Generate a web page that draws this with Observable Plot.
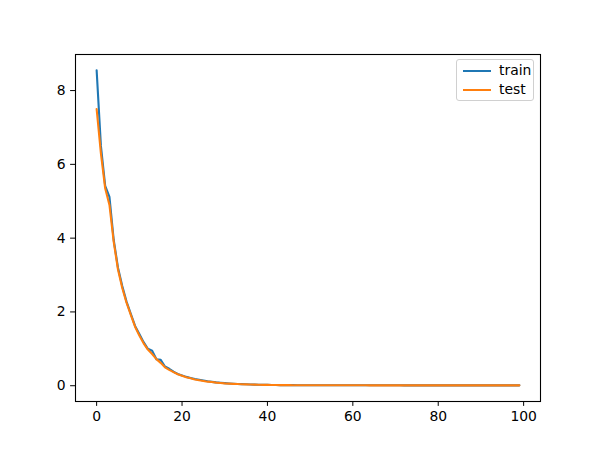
<!DOCTYPE html>
<html>
<head>
<meta charset="utf-8">
<script src="https://cdn.jsdelivr.net/npm/d3@7"></script>
<script src="https://cdn.jsdelivr.net/npm/@observablehq/plot@0.6"></script>
<style>
  html, body { margin: 0; padding: 0; background: #fff; }
  #wrap { position: relative; width: 600px; height: 450px; font-family: "DejaVu Sans", sans-serif; }
  #legend { position: absolute; left: 456px; top: 59px; width: 78px; height: 42px; box-sizing: border-box;
    border: 1px solid #d0d0d0; border-radius: 3px; background: rgba(255,255,255,0.8); font-size: 13.9px; color: #000; }
  .row { position: absolute; left: 0; height: 16px; }
  .sw { position: absolute; left: 6px; width: 28px; height: 2px; }
  .lb { position: absolute; left: 42px; line-height: 16px; }
</style>
</head>
<body>
<div id="wrap">
  <div id="chart"></div>
  <div id="legend">
    <div class="row" style="top:2px"><div class="sw" style="top:8px;background:#1f77b4"></div><div class="lb" style="top:0">train</div></div>
    <div class="row" style="top:21px"><div class="sw" style="top:8px;background:#ff7f0e"></div><div class="lb" style="top:0">test</div></div>
  </div>
</div>
<script>
const seriesNames = ["train", "test"];
const seriesColors = ["#1f77b4", "#ff7f0e"];
const xTicks = [0, 20, 40, 60, 80, 100];
const yTicks = [0, 2, 4, 6, 8];

const train = [
  8.55, 6.5, 5.42, 5.12, 3.95, 3.2, 2.7, 2.28, 1.95, 1.62,
  1.4, 1.18, 1.0, 0.95, 0.72, 0.7, 0.52, 0.46, 0.38, 0.32,
  0.28, 0.24, 0.21, 0.18, 0.16, 0.14, 0.12, 0.105, 0.09, 0.08,
  0.07, 0.062, 0.055, 0.048, 0.043, 0.038, 0.034, 0.031, 0.028, 0.025,
  0.023, 0.021, 0.019, 0.017, 0.016, 0.015, 0.015, 0.014, 0.014, 0.014,
  0.013, 0.013, 0.013, 0.013, 0.012, 0.012, 0.012, 0.012, 0.012, 0.012,
  0.011, 0.011, 0.011, 0.011, 0.011, 0.011, 0.011, 0.011, 0.011, 0.011,
  0.011, 0.011, 0.010, 0.010, 0.010, 0.010, 0.010, 0.010, 0.010, 0.010,
  0.010, 0.010, 0.010, 0.010, 0.010, 0.010, 0.010, 0.010, 0.010, 0.010,
  0.010, 0.010, 0.010, 0.010, 0.010, 0.010, 0.010, 0.010, 0.010, 0.010
];
const test = [
  7.5, 6.3, 5.35, 4.9, 3.9, 3.15, 2.65, 2.25, 1.92, 1.6,
  1.36, 1.15, 0.98, 0.86, 0.72, 0.62, 0.5, 0.43, 0.37, 0.31,
  0.27, 0.23, 0.2, 0.17, 0.15, 0.13, 0.11, 0.1, 0.085, 0.075,
  0.065, 0.058, 0.051, 0.045, 0.04, 0.036, 0.032, 0.029, 0.026, 0.024,
  0.022, 0.02, 0.018, 0.017, 0.016, 0.015, 0.014, 0.014, 0.013, 0.013,
  0.013, 0.012, 0.012, 0.012, 0.012, 0.012, 0.011, 0.011, 0.011, 0.011,
  0.011, 0.011, 0.011, 0.011, 0.010, 0.010, 0.010, 0.010, 0.010, 0.010,
  0.010, 0.010, 0.010, 0.010, 0.010, 0.010, 0.010, 0.010, 0.010, 0.010,
  0.010, 0.010, 0.010, 0.010, 0.010, 0.010, 0.010, 0.010, 0.010, 0.010,
  0.010, 0.010, 0.010, 0.010, 0.010, 0.010, 0.010, 0.010, 0.010, 0.010
];

const rows = [];
[train, test].forEach((arr, s) => arr.forEach((v, i) => rows.push({epoch: i, loss: v, series: seriesNames[s]})));

const chart = Plot.plot({
  width: 600,
  height: 450,
  marginLeft: 75,
  marginRight: 60,
  marginTop: 54,
  marginBottom: 49,
  style: {fontFamily: "DejaVu Sans, sans-serif", fontSize: "13.9px", color: "#000", background: "#fff"},
  x: {domain: [-4.95, 103.95], ticks: xTicks, tickSize: 4.9, tickPadding: 4.9, label: null, tickFormat: d => String(d)},
  y: {domain: [-0.4275, 8.9775], ticks: yTicks, tickSize: 4.9, tickPadding: 4.9, label: null, tickFormat: d => String(d)},
  color: {domain: seriesNames, range: seriesColors},
  marks: [
    Plot.line(rows, {x: "epoch", y: "loss", z: "series", stroke: "series", strokeWidth: 2.1, curve: "linear"}),
    Plot.frame({stroke: "#000", strokeWidth: 1.1})
  ]
});
document.getElementById("chart").appendChild(chart);
</script>
</body>
</html>
